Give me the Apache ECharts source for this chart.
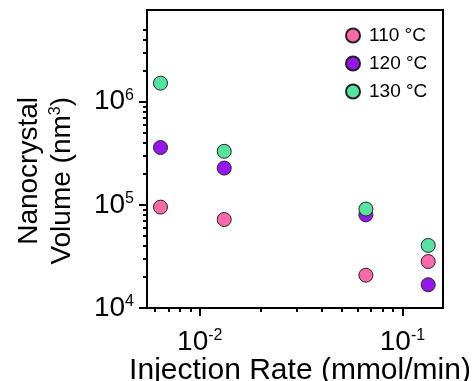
<!DOCTYPE html>
<html>
<head>
<meta charset="utf-8">
<style>
  html, body { margin: 0; padding: 0; background: #fff; }
  #chart { width: 473px; height: 381px; }
</style>
<script src="https://cdn.jsdelivr.net/npm/echarts@6/dist/echarts.min.js"></script>
</head>
<body>
<div id="chart"></div>
<script>
// injection rate (mmol/min) for each column of points
const rates = [0.0064, 0.0132, 0.066, 0.134];
// nanocrystal volume (nm^3) per temperature
const vol110 = [9.5e4, 7.2e4, 2.08e4, 2.82e4];
const vol120 = [3.59e5, 2.27e5, 8.0e4, 1.68e4];
const vol130 = [1.51e6, 3.3e5, 9.1e4, 4.04e4];

const seriesNames = ['110 °C', '120 °C', '130 °C'];
const seriesColors = ['#fa6aab', '#9616ee', '#55e3a0'];

// ticks
const xMajorTicks = [0.01, 0.1];
const xMinorTicks = [0.006, 0.007, 0.008, 0.009, 0.02, 0.03, 0.04, 0.05, 0.06, 0.07, 0.08, 0.09];
const yMajorTicks = [1e4, 1e5, 1e6];
const yMinorTicks = [2e4, 3e4, 4e4, 5e4, 6e4, 7e4, 8e4, 9e4,
  2e5, 3e5, 4e5, 5e5, 6e5, 7e5, 8e5, 9e5, 2e6, 3e6, 4e6, 5e6];

const FONT = '"Liberation Sans", Arial, sans-serif';

const chart = echarts.init(document.getElementById('chart'));

const powLabel = v => '10{sup|' + Math.round(Math.log10(v)) + '}';
const labelRich = {
  sup: { fontSize: 16, fontFamily: FONT, color: '#000', verticalAlign: 'top', lineHeight: 16 }
};

const baseLog = (min, max) => ({
  type: 'log',
  logBase: 10,
  min: min,
  max: max,
  splitLine: { show: false },
  minorTick: { show: false },
});

const xRange = [0.00549, 0.1585];
const yRange = [1e4, 7.73e6];

chart.setOption({
  animation: false,
  grid: {
    left: 147,
    right: 30,
    top: 10,
    bottom: 73,
    outerBoundsMode: 'none',
    show: true,
    borderColor: '#000',
    borderWidth: 2,
  },
  legend: {
    orient: 'vertical',
    left: 345,
    top: 26,
    padding: 0,
    itemGap: 9,
    itemWidth: 14,
    itemHeight: 14,
    icon: 'circle',
    textStyle: { fontSize: 19, fontFamily: FONT, color: '#000', padding: [0, 0, 0, 4] },
    data: seriesNames,
  },
  xAxis: [
    Object.assign(baseLog(xRange[0], xRange[1]), {
      position: 'bottom',
      name: 'Injection Rate (mmol/min)',
      nameLocation: 'middle',
      nameGap: 48,
      nameMoveOverlap: false,
      nameTextStyle: { fontSize: 30, fontFamily: FONT, color: '#000', padding: [0, 0, 0, 10] },
      axisLine: { lineStyle: { color: '#000', width: 2 } },
      axisTick: { length: 8, lineStyle: { color: '#000', width: 2 }, customValues: xMajorTicks },
      axisLabel: {
        customValues: xMajorTicks,
        margin: 20,
        fontSize: 28,
        fontFamily: FONT,
        color: '#000',
        formatter: powLabel,
        rich: labelRich,
      },
    }),
    Object.assign(baseLog(xRange[0], xRange[1]), {
      position: 'bottom',
      axisLine: { show: false },
      axisLabel: { show: false },
      axisTick: { length: 4, lineStyle: { color: '#000', width: 2 }, customValues: xMinorTicks },
    }),
  ],
  yAxis: [
    Object.assign(baseLog(yRange[0], yRange[1]), {
      position: 'left',
      axisLine: { lineStyle: { color: '#000', width: 2 } },
      axisTick: { length: 8, lineStyle: { color: '#000', width: 2 }, customValues: yMajorTicks },
      axisLabel: {
        customValues: yMajorTicks,
        margin: 13,
        fontSize: 28,
        fontFamily: FONT,
        color: '#000',
        formatter: powLabel,
        rich: labelRich,
      },
    }),
    Object.assign(baseLog(yRange[0], yRange[1]), {
      position: 'left',
      axisLine: { show: false },
      axisLabel: { show: false },
      axisTick: { length: 4, lineStyle: { color: '#000', width: 2 }, customValues: yMinorTicks },
    }),
  ],
  graphic: [
    {
      type: 'text',
      x: 29,
      y: 97,
      rotation: Math.PI / 2,
      style: { text: 'Nanocrystal', font: '28px ' + FONT, fill: '#000', align: 'right', verticalAlign: 'middle' },
    },
    {
      type: 'text',
      x: 62,
      y: 97,
      rotation: Math.PI / 2,
      style: {
        text: 'Volume (nm{sup|3})',
        font: '28px ' + FONT,
        fill: '#000',
        align: 'right',
        verticalAlign: 'middle',
        rich: { sup: { fontSize: 16, fontFamily: FONT, fill: '#000', verticalAlign: 'top', lineHeight: 16 } },
      },
    },
  ],
  series: [vol110, vol120, vol130].map((vals, i) => ({
    name: seriesNames[i],
    type: 'scatter',
    symbol: 'circle',
    symbolSize: 14,
    itemStyle: { color: seriesColors[i], borderColor: '#222', borderWidth: 1, opacity: 1 },
    data: rates.map((r, j) => [r, vals[j]]),
  })),
});
</script>
</body>
</html>
